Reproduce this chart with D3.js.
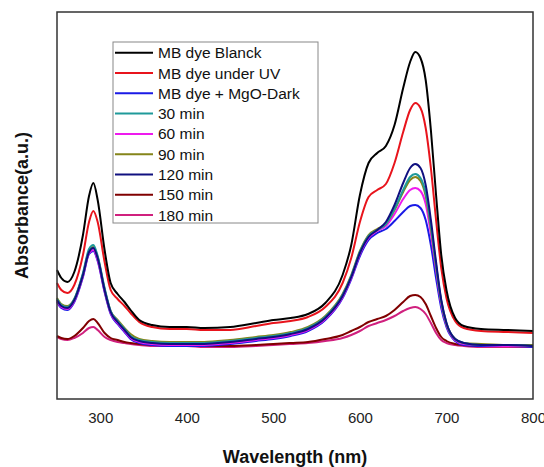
<!DOCTYPE html>
<html>
<head>
<meta charset="utf-8">
<script src="https://cdn.jsdelivr.net/npm/d3@7"></script>
<style>
  body { margin: 0; background: #fff; }
  svg { display: block; font-family: "Liberation Sans", Arial, sans-serif; }
</style>
</head>
<body>
<div class="main"></div>
<script>
// wavelength grid (nm)
const wavelengths = [250, 255, 262, 270, 280, 287, 292, 297, 305, 312, 320, 328, 335, 345, 360, 380, 400, 420, 450, 480, 500, 520, 540, 560, 580, 590, 600, 610, 620, 630, 640, 650, 658, 664, 670, 676, 682, 688, 694, 700, 710, 720, 740, 770, 800];

// absorbance (a.u.)
const blanck = [1.29, 1.21, 1.17, 1.27, 1.64, 2.03, 2.16, 1.99, 1.49, 1.16, 1.05, 0.97, 0.89, 0.79, 0.74, 0.72, 0.72, 0.71, 0.72, 0.76, 0.79, 0.81, 0.85, 0.96, 1.24, 1.54, 2.04, 2.36, 2.46, 2.53, 2.74, 3.11, 3.37, 3.47, 3.41, 3.19, 2.69, 2.04, 1.44, 1.09, 0.81, 0.73, 0.70, 0.69, 0.68];
const underUV = [1.16, 1.09, 1.06, 1.14, 1.44, 1.77, 1.88, 1.77, 1.37, 1.09, 1.00, 0.93, 0.86, 0.77, 0.72, 0.70, 0.70, 0.69, 0.69, 0.73, 0.76, 0.78, 0.82, 0.92, 1.16, 1.41, 1.77, 2.02, 2.09, 2.15, 2.36, 2.67, 2.89, 2.96, 2.91, 2.71, 2.31, 1.79, 1.31, 1.01, 0.78, 0.71, 0.68, 0.67, 0.66];
const mgoDark = [0.97, 0.91, 0.89, 0.97, 1.22, 1.45, 1.48, 1.38, 1.07, 0.85, 0.75, 0.67, 0.60, 0.56, 0.54, 0.53, 0.53, 0.53, 0.55, 0.58, 0.60, 0.63, 0.68, 0.79, 1.01, 1.20, 1.43, 1.59, 1.66, 1.70, 1.78, 1.87, 1.93, 1.94, 1.91, 1.79, 1.54, 1.21, 0.91, 0.72, 0.58, 0.54, 0.53, 0.53, 0.52];
const min30 = [1.00, 0.94, 0.92, 1.00, 1.26, 1.50, 1.54, 1.43, 1.11, 0.88, 0.78, 0.70, 0.63, 0.59, 0.57, 0.56, 0.56, 0.56, 0.58, 0.61, 0.63, 0.66, 0.71, 0.82, 1.04, 1.23, 1.47, 1.63, 1.69, 1.75, 1.90, 2.09, 2.22, 2.25, 2.21, 2.06, 1.74, 1.34, 0.98, 0.76, 0.60, 0.56, 0.54, 0.54, 0.53];
const min60 = [0.98, 0.92, 0.90, 0.98, 1.23, 1.46, 1.49, 1.39, 1.08, 0.86, 0.76, 0.68, 0.61, 0.57, 0.55, 0.54, 0.54, 0.54, 0.56, 0.59, 0.61, 0.64, 0.69, 0.80, 1.02, 1.21, 1.45, 1.61, 1.68, 1.73, 1.85, 2.00, 2.09, 2.11, 2.08, 1.95, 1.65, 1.29, 0.95, 0.74, 0.59, 0.55, 0.54, 0.53, 0.53];
const min90 = [1.01, 0.95, 0.93, 1.00, 1.25, 1.48, 1.52, 1.42, 1.10, 0.88, 0.79, 0.71, 0.65, 0.60, 0.58, 0.57, 0.57, 0.57, 0.59, 0.62, 0.64, 0.67, 0.72, 0.83, 1.05, 1.24, 1.48, 1.64, 1.70, 1.75, 1.89, 2.07, 2.19, 2.22, 2.18, 2.03, 1.71, 1.32, 0.97, 0.75, 0.60, 0.56, 0.55, 0.54, 0.54];
const min120 = [0.99, 0.93, 0.91, 0.99, 1.24, 1.47, 1.51, 1.41, 1.09, 0.87, 0.77, 0.69, 0.62, 0.58, 0.56, 0.55, 0.55, 0.55, 0.57, 0.60, 0.62, 0.65, 0.70, 0.81, 1.03, 1.22, 1.46, 1.62, 1.69, 1.77, 1.94, 2.16, 2.31, 2.35, 2.31, 2.14, 1.79, 1.37, 0.99, 0.76, 0.60, 0.56, 0.54, 0.54, 0.53];
const min150 = [0.63, 0.61, 0.60, 0.63, 0.71, 0.78, 0.80, 0.76, 0.66, 0.61, 0.59, 0.57, 0.56, 0.55, 0.54, 0.54, 0.54, 0.53, 0.53, 0.54, 0.55, 0.56, 0.57, 0.60, 0.64, 0.68, 0.72, 0.77, 0.80, 0.83, 0.89, 0.97, 1.03, 1.04, 1.02, 0.95, 0.83, 0.71, 0.62, 0.58, 0.55, 0.54, 0.53, 0.53, 0.53];
const min180 = [0.62, 0.60, 0.59, 0.61, 0.66, 0.71, 0.72, 0.69, 0.62, 0.59, 0.57, 0.56, 0.55, 0.54, 0.53, 0.53, 0.53, 0.52, 0.52, 0.53, 0.54, 0.55, 0.56, 0.58, 0.61, 0.64, 0.68, 0.73, 0.76, 0.79, 0.83, 0.88, 0.91, 0.92, 0.90, 0.85, 0.76, 0.66, 0.59, 0.56, 0.54, 0.53, 0.52, 0.52, 0.52];

const seriesNames = ["MB dye Blanck", "MB dye under UV", "MB dye + MgO-Dark", "30 min", "60 min", "90 min", "120 min", "150 min", "180 min"];
const seriesValues = [blanck, underUV, mgoDark, min30, min60, min90, min120, min150, min180];
const seriesColors = ["#000000", "#e8141c", "#1a1ae6", "#1f9a9a", "#ee1aee", "#85851a", "#101080", "#800000", "#d0207e"];

const xTicks = [300, 400, 500, 600, 700, 800];

const W = 544, H = 467;
const plot = { left: 57, right: 533, top: 12, bottom: 399 };

const svg = d3.select(".main").append("svg")
    .attr("width", W)
    .attr("height", H);

const x = d3.scaleLinear().domain([250, 800]).range([plot.left, plot.right]);
const y = d3.scaleLinear().domain([0, 3.87]).range([plot.bottom, plot.top]);

const line = d3.line()
    .x(function(d) { return x(d[0]); })
    .y(function(d) { return y(d[1]); })
    .curve(d3.curveMonotoneX);

// draw the spectra, last series underneath
const order = [8, 7, 2, 4, 5, 3, 6, 1, 0];
order.forEach(function(k) {
    svg.append("path")
        .datum(wavelengths.map(function(w, i) { return [w, seriesValues[k][i]]; }))
        .attr("d", line)
        .attr("fill", "none")
        .attr("stroke", seriesColors[k])
        .attr("stroke-width", 2)
        .attr("stroke-linejoin", "round");
});

// frame
svg.append("rect")
    .attr("x", plot.left)
    .attr("y", plot.top)
    .attr("width", plot.right - plot.left)
    .attr("height", plot.bottom - plot.top)
    .attr("fill", "none")
    .attr("stroke", "#333")
    .attr("stroke-width", 1.5);

// x axis labels only
const xAxis = d3.axisBottom(x).tickValues(xTicks).tickSize(0).tickPadding(13).tickFormat(d3.format("d"));
const gx = svg.append("g")
    .attr("transform", "translate(0," + plot.bottom + ")")
    .call(xAxis);
gx.select(".domain").remove();
gx.selectAll("text")
    .attr("font-size", 15)
    .attr("font-family", "Liberation Sans, Arial, sans-serif")
    .attr("fill", "#222");

// axis titles
svg.append("text")
    .attr("x", (plot.left + plot.right) / 2)
    .attr("y", 463)
    .attr("text-anchor", "middle")
    .attr("font-size", 18)
    .attr("font-weight", "bold")
    .attr("fill", "#111")
    .text("Wavelength (nm)");

svg.append("text")
    .attr("transform", "translate(28," + (plot.top + plot.bottom) / 2 + ") rotate(-90)")
    .attr("text-anchor", "middle")
    .attr("font-size", 18)
    .attr("font-weight", "bold")
    .attr("fill", "#111")
    .text("Absorbance(a.u.)");

// legend
const legend = svg.append("g").attr("transform", "translate(113,42)");
legend.append("rect")
    .attr("width", 205)
    .attr("height", 181)
    .attr("fill", "#fff")
    .attr("stroke", "#888")
    .attr("stroke-width", 1);

const rows = legend.selectAll(".row").data(seriesNames).enter().append("g")
    .attr("class", "row")
    .attr("transform", function(d, i) { return "translate(0," + (10.7 + i * 20.3) + ")"; });

rows.append("line")
    .attr("x1", 2).attr("x2", 40)
    .attr("stroke", function(d, i) { return seriesColors[i]; })
    .attr("stroke-width", 2);

rows.append("text")
    .attr("x", 45)
    .attr("y", 5.5)
    .attr("font-size", 15.5)
    .attr("fill", "#111")
    .text(function(d) { return d; });
</script>
</body>
</html>
